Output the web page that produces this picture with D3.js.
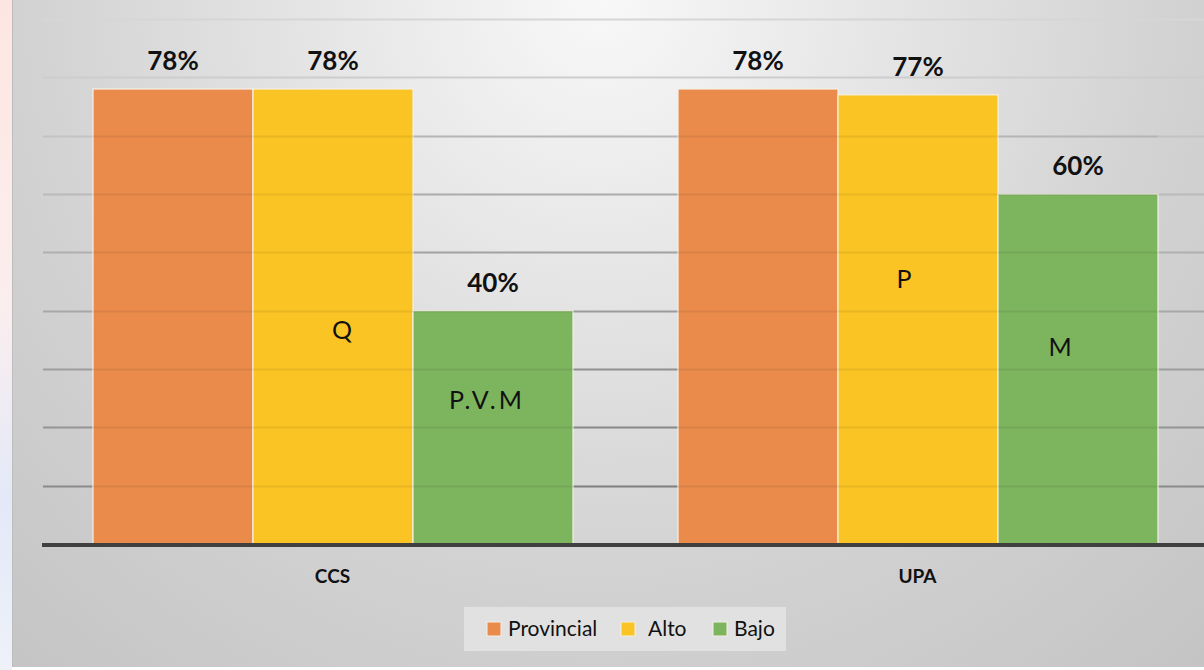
<!DOCTYPE html>
<html>
<head>
<meta charset="utf-8">
<script src="https://cdn.jsdelivr.net/npm/d3@7"></script>
<style>
  html, body { margin: 0; padding: 0; background: #fff; }
  svg { display: block; }
</style>
</head>
<body>
<div id="chart"></div>
<script>
// datos
const categories = ["CCS", "UPA"];
const series = ["Provincial", "Alto", "Bajo"];
const provincial = [0.78, 0.78];
const alto = [0.78, 0.77];
const bajo = [0.40, 0.60];
const yTicks = [0.1, 0.2, 0.3, 0.4, 0.5, 0.6, 0.7, 0.8, 0.9];
// notas dentro de las barras (nivel en el eje y)
const noteCats = ["CCS", "CCS", "UPA", "UPA"];
const noteSeries = ["Alto", "Bajo", "Alto", "Bajo"];
const noteTexts = ["Q", "P.V.M", "P", "M"];
const noteLevels = [0.367, 0.247, 0.454, 0.338];

const colors = {Provincial: "#ea8b4c", Alto: "#fbc425", Bajo: "#7db45e"};
const values = {Provincial: provincial, Alto: alto, Bajo: bajo};

const data = categories.map((c, i) => ({
    cat: c,
    bars: series.map(s => ({cat: c, serie: s, v: values[s][i]}))
}));

const W = 1204, H = 670;
const FONT = "Lato, 'Open Sans', sans-serif";

const svg = d3.select("#chart").append("svg")
    .attr("width", W)
    .attr("height", H);

const defs = svg.append("defs");
const bg = defs.append("radialGradient")
    .attr("id", "bg")
    .attr("gradientUnits", "userSpaceOnUse")
    .attr("cx", 600).attr("cy", 0).attr("r", 900);
bg.append("stop").attr("offset", 0).attr("stop-color", "#f8f8f8");
bg.append("stop").attr("offset", 0.64).attr("stop-color", "#d2d2d2");
bg.append("stop").attr("offset", 1).attr("stop-color", "#c4c4c4");

const strip = defs.append("linearGradient")
    .attr("id", "strip").attr("x1", 0).attr("y1", 0).attr("x2", 0).attr("y2", 1);
strip.append("stop").attr("offset", 0).attr("stop-color", "#fde6e1");
strip.append("stop").attr("offset", 0.45).attr("stop-color", "#fbeeee");
strip.append("stop").attr("offset", 0.75).attr("stop-color", "#e3e9f8");
strip.append("stop").attr("offset", 1).attr("stop-color", "#eef1f8");

// fondo
svg.append("rect").attr("x", 0).attr("y", 0).attr("width", 12).attr("height", H)
    .attr("fill", "url(#strip)");
svg.append("rect").attr("x", 12).attr("y", 0).attr("width", W - 12).attr("height", 667)
    .attr("fill", "url(#bg)");
svg.append("line").attr("x1", 12.5).attr("x2", 12.5).attr("y1", 0).attr("y2", 667)
    .attr("stroke", "#bdbdbd");

// escalas
const y = d3.scaleLinear().domain([0, 0.9]).range([544, 19]);
const x0 = d3.scaleBand().domain(categories).range([40, 1210]);
const x1 = d3.scaleBand().domain(series)
    .range([53, 53 + 480]);

// líneas de la cuadrícula
const gridColor = d3.scaleLinear().domain([0.1, 0.9]).range(["#8a8a8a", "#d6d6d6"]);
svg.append("g")
    .selectAll("line")
    .data(yTicks)
    .enter()
    .append("line")
    .attr("x1", 43).attr("x2", W)
    .attr("y1", d => Math.round(y(d)) + 0.5)
    .attr("y2", d => Math.round(y(d)) + 0.5)
    .attr("stroke", d => gridColor(d))
    .attr("stroke-width", 2);

// barras
const groups = svg.append("g")
    .selectAll("g")
    .data(data)
    .enter()
    .append("g")
    .attr("transform", d => `translate(${x0(d.cat)},0)`);

groups.selectAll("rect")
    .data(d => d.bars)
    .enter()
    .append("rect")
    .attr("x", d => x1(d.serie))
    .attr("y", d => y(d.v))
    .attr("width", x1.bandwidth())
    .attr("height", d => y(0) - y(d.v))
    .attr("fill", d => colors[d.serie])
    .attr("stroke", "#f4f0e6")
    .attr("stroke-width", 1.2);

// la cuadrícula se ve a través de las barras
svg.append("g")
    .selectAll("line")
    .data(yTicks.filter(t => t < 0.8))
    .enter()
    .append("line")
    .attr("x1", 93).attr("x2", 1158)
    .attr("y1", d => Math.round(y(d)) + 0.5)
    .attr("y2", d => Math.round(y(d)) + 0.5)
    .attr("stroke", "rgba(0,0,0,0.07)")
    .attr("stroke-width", 2);

// etiquetas de valor
groups.selectAll("text.val")
    .data(d => d.bars)
    .enter()
    .append("text")
    .attr("class", "val")
    .attr("x", d => x1(d.serie) + x1.bandwidth() / 2)
    .attr("y", d => y(d.v) - 19)
    .attr("text-anchor", "middle")
    .attr("font-family", FONT)
    .attr("font-weight", "bold")
    .attr("font-size", "26px")
    .attr("fill", "#111")
    .text(d => Math.round(d.v * 100) + "%");

// notas en las barras
const noteShift = {"CCS|Alto": 9, "CCS|Bajo": -6, "UPA|Alto": -14, "UPA|Bajo": -18};
svg.append("g")
    .selectAll("text")
    .data(noteTexts.map((t, i) => ({t: t, cat: noteCats[i], serie: noteSeries[i], lv: noteLevels[i]})))
    .enter()
    .append("text")
    .attr("x", d => x0(d.cat) + x1(d.serie) + x1.bandwidth() / 2 + noteShift[d.cat + "|" + d.serie])
    .attr("y", d => y(d.lv))
    .attr("dy", "0.36em")
    .attr("text-anchor", "middle")
    .attr("font-family", FONT)
    .attr("font-size", "25px")
    .attr("letter-spacing", d => d.t.length > 1 ? "3px" : "0px")
    .attr("fill", "#111")
    .text(d => d.t);

// eje x
svg.append("line")
    .attr("x1", 42).attr("x2", W)
    .attr("y1", 545).attr("y2", 545)
    .attr("stroke", "#404040")
    .attr("stroke-width", 4);

svg.append("g")
    .selectAll("text")
    .data(categories)
    .enter()
    .append("text")
    .attr("x", d => x0(d) + x0.bandwidth() / 2)
    .attr("y", 583)
    .attr("text-anchor", "middle")
    .attr("font-family", FONT)
    .attr("font-weight", "bold")
    .attr("font-size", "19px")
    .attr("fill", "#111")
    .text(d => d);

// leyenda
const legend = svg.append("g");
legend.append("rect")
    .attr("x", 464).attr("y", 607)
    .attr("width", 322).attr("height", 44)
    .attr("fill", "#e1e1e1");

const legX = {Provincial: 487, Alto: 621, Bajo: 713};
const legTextX = {Provincial: 508, Alto: 648, Bajo: 734};
const items = legend.selectAll("g")
    .data(series)
    .enter()
    .append("g");
items.append("rect")
    .attr("x", d => legX[d]).attr("y", 622)
    .attr("width", 14).attr("height", 14)
    .attr("fill", d => colors[d])
    .attr("stroke", "#f4f0e6")
    .attr("stroke-width", 1);
items.append("text")
    .attr("x", d => legTextX[d])
    .attr("y", 636)
    .attr("font-family", FONT)
    .attr("font-size", "21px")
    .attr("fill", "#111")
    .text(d => d);
</script>
</body>
</html>
